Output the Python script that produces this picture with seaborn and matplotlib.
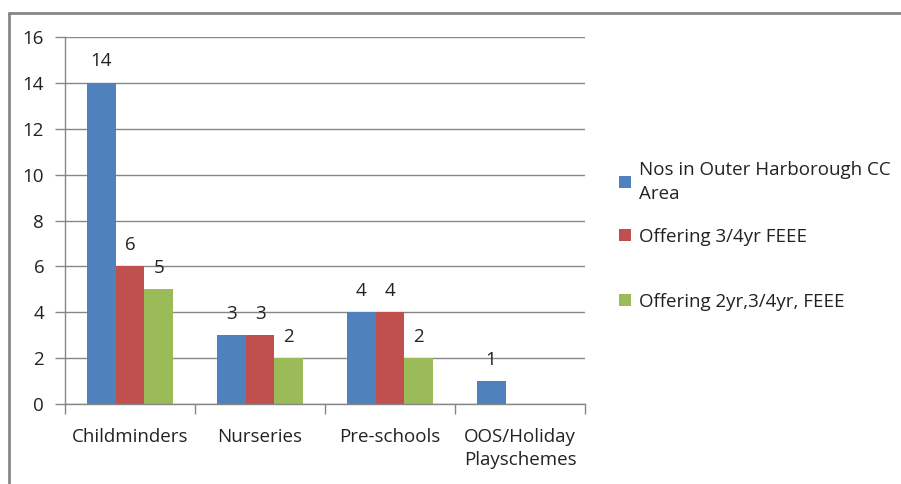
import matplotlib
matplotlib.use("Agg")
import matplotlib.pyplot as plt
import seaborn as sns
import pandas as pd
from matplotlib.lines import Line2D
from matplotlib.patches import Patch

categories = ["Childminders", "Nurseries", "Pre-schools", "OOS/Holiday\nPlayschemes"]
series_names = ["Nos in Outer Harborough CC\nArea", "Offering 3/4yr FEEE", "Offering 2yr,3/4yr, FEEE"]
nos_area = [14, 3, 4, 1]
offering_34 = [6, 3, 4, 0]
offering_2_34 = [5, 2, 2, 0]
yticks = [0, 2, 4, 6, 8, 10, 12, 14, 16]
colors = ["#4F81BD", "#C0504D", "#9BBB59"]

rows = []
for name, vals in zip(series_names, [nos_area, offering_34, offering_2_34]):
    for c, v in zip(categories, vals):
        rows.append({"category": c, "series": name, "value": v})
df = pd.DataFrame(rows)

sns.set_style("white")
plt.rcParams["font.family"] = ["Open Sans", "DejaVu Sans"]
FS = 13.5
TC = "#222222"

fig = plt.figure(figsize=(9.01, 4.84), dpi=100)
ax = fig.add_axes([65/901, 1-404/484, (585-65)/901, (404-37)/484])

sns.barplot(data=df, x="category", y="value", hue="series", palette=colors,
            width=0.667, saturation=1, ax=ax, legend=False, edgecolor="none")

ax.set_ylim(0, 16)
ax.set_xlim(-0.5, 3.5)
ax.set_yticks(yticks)
ax.set_yticklabels([str(t) for t in yticks], fontsize=FS, color=TC)
ax.yaxis.grid(True, color="#868686", linewidth=1)
ax.set_axisbelow(True)
ax.set_xlabel("")
ax.set_ylabel("")
ax.set_xticks([0, 1, 2, 3])
ax.set_xticklabels(categories, fontsize=FS, color=TC, linespacing=1.35)
ax.tick_params(axis="x", length=0, pad=17)
ax.tick_params(axis="y", length=7, color="#868686", left=True, width=1, pad=8)
# category boundary ticks
ax.set_xticks([-0.5, 0.5, 1.5, 2.5, 3.5], minor=True)
ax.tick_params(axis="x", which="minor", length=7, color="#868686", bottom=True, width=1)
for s in ["top", "right"]:
    ax.spines[s].set_visible(False)
for s in ["left", "bottom"]:
    ax.spines[s].set_color("#868686")
    ax.spines[s].set_linewidth(1)

for cont in ax.containers:
    labels = [("%d" % v) if v > 0 else "" for v in cont.datavalues]
    ax.bar_label(cont, labels=labels, padding=9, fontsize=FS, color=TC)

# legend entries placed individually (uneven Excel spacing)
ys = [182, 237, 302]
for name, col, y in zip(series_names, colors, ys):
    leg = fig.legend(handles=[Patch(facecolor=col, edgecolor="none")], labels=[name],
                     loc="center left", bbox_to_anchor=(610/901, 1-y/484), frameon=False,
                     fontsize=FS, handlelength=0.6, handleheight=0.6, handletextpad=0.45,
                     borderpad=0, labelcolor=TC)
    for t in leg.get_texts():
        t.set_linespacing(1.4)

# outer border (top and left visible)
fig.add_artist(Line2D([9/901, 1], [1-13/484, 1-13/484], color="#868686", linewidth=2,
                      transform=fig.transFigure))
fig.add_artist(Line2D([9/901, 9/901], [0, 1-13/484], color="#868686", linewidth=2,
                      transform=fig.transFigure))

fig.savefig("out.png", dpi=100)
